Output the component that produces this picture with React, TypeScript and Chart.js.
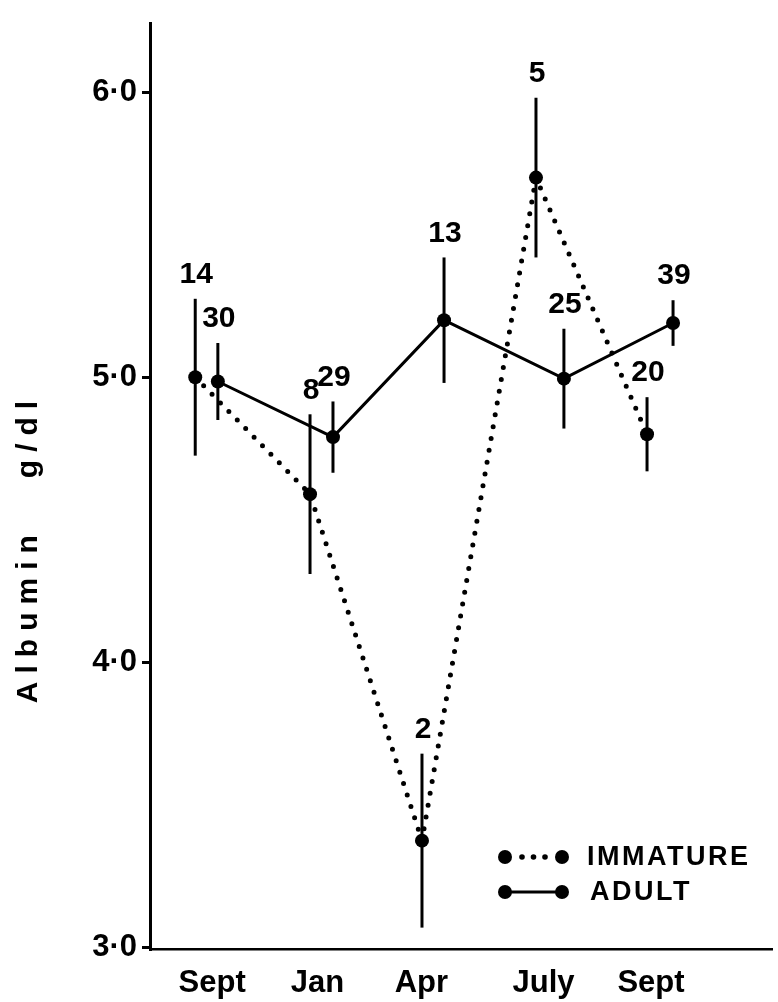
import React, { useEffect, useRef } from 'react';
import { Chart, registerables } from 'chart.js';

Chart.register(...registerables);

// ---- data ----
const months = ['Sept', 'Jan', 'Apr', 'July', 'Sept'];
const monthTickPos = [0.05, 0.98, 1.9, 2.98, 3.93];
const yTickValues = [3, 4, 5, 6];
const yTickLabels = ['3·0', '4·0', '5·0', '6·0'];

const immatureX = [-0.1, 0.915, 1.905, 2.913, 3.895];
const immatureMean = [5.0, 4.59, 3.375, 5.7, 4.8];
const immatureSE = [0.275, 0.28, 0.305, 0.28, 0.13];
const immatureN = [14, 8, 2, 5, 20];

const adultX = [0.1, 1.118, 2.1, 3.16, 4.125];
const adultMean = [4.985, 4.79, 5.2, 4.995, 5.19];
const adultSE = [0.135, 0.125, 0.22, 0.175, 0.08];
const adultN = [30, 29, 13, 25, 39];

const yTitle = 'Albumin   g/dl';
const legendLabels = ['IMMATURE', 'ADULT'];

const FONT = '"Liberation Sans", Arial, Helvetica, sans-serif';
const INK = '#000';

export default function App() {
  const ref = useRef<HTMLCanvasElement | null>(null);

  useEffect(() => {
    const canvas = ref.current;
    if (!canvas) return;

    const seriesMeta = [
      { xs: immatureX, ys: immatureMean, se: immatureSE, n: immatureN },
      { xs: adultX, ys: adultMean, se: adultSE, n: adultN },
    ];

    const errorBars = {
      id: 'errorBars',
      beforeDatasetsDraw(chart: any) {
        const { ctx, scales } = chart;
        ctx.save();
        ctx.strokeStyle = INK;
        ctx.lineWidth = 3;
        ctx.lineCap = 'butt';
        seriesMeta.forEach((s) => {
          s.xs.forEach((xv, i) => {
            const px = scales.x.getPixelForValue(xv);
            const top = scales.y.getPixelForValue(s.ys[i] + s.se[i]);
            const bot = scales.y.getPixelForValue(s.ys[i] - s.se[i]);
            ctx.beginPath();
            ctx.moveTo(px, top);
            ctx.lineTo(px, bot);
            ctx.stroke();
          });
        });
        ctx.restore();
      },
    };

    const annotations = {
      id: 'annotations',
      afterDraw(chart: any) {
        const { ctx, scales } = chart;
        ctx.save();
        // sample-size labels
        ctx.fillStyle = INK;
        ctx.font = `bold 30px ${FONT}`;
        ctx.textAlign = 'center';
        ctx.textBaseline = 'middle';
        seriesMeta.forEach((s) => {
          s.xs.forEach((xv, i) => {
            const px = scales.x.getPixelForValue(xv);
            const top = scales.y.getPixelForValue(s.ys[i] + s.se[i]);
            ctx.fillText(String(s.n[i]), px + 1, top - 24);
          });
        });

        // y-axis title
        ctx.save();
        ctx.translate(29, 548);
        ctx.rotate(-Math.PI / 2);
        ctx.font = `bold 30px ${FONT}`;
        (ctx as any).letterSpacing = '8px';
        ctx.textAlign = 'center';
        ctx.textBaseline = 'middle';
        ctx.fillText(yTitle, 0, 0);
        ctx.restore();

        // legend
        const lx0 = 505;
        const lx1 = 562;
        const rows = [857, 892];
        ctx.fillStyle = INK;
        ctx.strokeStyle = INK;
        [lx0, lx1].forEach((x) => {
          ctx.beginPath();
          ctx.arc(x, rows[0], 7, 0, Math.PI * 2);
          ctx.fill();
        });
        [522, 533.5, 545].forEach((x) => {
          ctx.beginPath();
          ctx.arc(x, rows[0], 2.8, 0, Math.PI * 2);
          ctx.fill();
        });
        ctx.lineWidth = 3;
        ctx.beginPath();
        ctx.moveTo(lx0, rows[1]);
        ctx.lineTo(lx1, rows[1]);
        ctx.stroke();
        [lx0, lx1].forEach((x) => {
          ctx.beginPath();
          ctx.arc(x, rows[1], 7, 0, Math.PI * 2);
          ctx.fill();
        });
        ctx.font = `bold 27px ${FONT}`;
        (ctx as any).letterSpacing = '2.5px';
        ctx.textAlign = 'left';
        ctx.textBaseline = 'middle';
        ctx.fillText(legendLabels[0], 587, rows[0] + 1);
        ctx.fillText(legendLabels[1], 590, rows[1] + 1);
        ctx.restore();
      },
    };

    const chart = new Chart(canvas, {
      type: 'line',
      data: {
        datasets: [
          {
            label: legendLabels[0],
            data: immatureX.map((x, i) => ({ x, y: immatureMean[i] })),
            borderColor: INK,
            borderWidth: 5,
            borderDash: [0, 12],
            borderCapStyle: 'round',
            pointRadius: 7,
            pointBackgroundColor: INK,
            pointBorderWidth: 0,
            tension: 0,
            fill: false,
          },
          {
            label: legendLabels[1],
            data: adultX.map((x, i) => ({ x, y: adultMean[i] })),
            borderColor: INK,
            borderWidth: 3,
            pointRadius: 7,
            pointBackgroundColor: INK,
            pointBorderWidth: 0,
            tension: 0,
            fill: false,
          },
        ],
      },
      options: {
        responsive: false,
        animation: false,
        events: [],
        layout: { autoPadding: false, padding: { top: 12, right: 6, left: 0, bottom: 0 } },
        plugins: {
          legend: { display: false },
          tooltip: { enabled: false },
          title: { display: false },
        },
        scales: {
          x: {
            type: 'linear',
            min: -0.5,
            max: 5.0,
            afterFit: (s: any) => {
              s.height = 53;
            },
            afterBuildTicks: (s: any) => {
              s.ticks = monthTickPos.map((v) => ({ value: v }));
            },
            grid: { display: false, drawTicks: false },
            border: { display: true, width: 2.5, color: INK },
            ticks: {
              color: INK,
              font: { family: FONT, size: 31, weight: 'bold' },
              padding: 16,
              maxRotation: 0,
              autoSkip: false,
              callback: (_v: any, i: number) => months[i],
            },
          },
          y: {
            type: 'linear',
            min: 2.995,
            max: 6.24,
            afterFit: (s: any) => {
              s.width = 150;
            },
            afterBuildTicks: (s: any) => {
              s.ticks = yTickValues.map((v) => ({ value: v }));
            },
            grid: {
              display: true,
              drawOnChartArea: false,
              drawTicks: true,
              tickLength: 8,
              lineWidth: 3,
              color: INK,
            },
            border: { display: true, width: 3, color: INK },
            ticks: {
              color: INK,
              font: { family: FONT, size: 31, weight: 'bold' },
              padding: 5,
              autoSkip: false,
              callback: (_v: any, i: number) => yTickLabels[i],
            },
          },
        },
      },
      plugins: [errorBars, annotations],
    } as any);

    return () => chart.destroy();
  }, []);

  return (
    <div style={{ position: 'fixed', left: 0, top: 0, width: 778, height: 1002, background: '#fff' }}>
      <canvas ref={ref} width={778} height={1002} style={{ display: 'block', width: 778, height: 1002 }} />
    </div>
  );
}
